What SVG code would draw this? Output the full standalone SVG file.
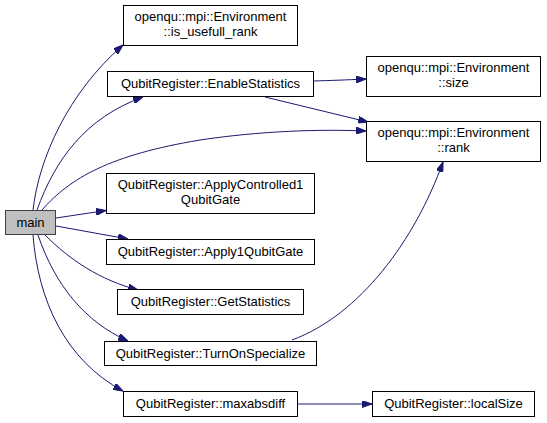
<svg xmlns="http://www.w3.org/2000/svg" width="547" height="423" viewBox="0 0 547 423">
<style>
.n rect{fill:#fff;stroke:#000;stroke-width:1}
#main rect{fill:#bfbfbf;stroke:#404040}
.n text{font-family:"Liberation Sans",Arial,sans-serif;font-size:13px;fill:#000;text-anchor:middle}
.e path{fill:none;stroke:#191970;stroke-width:1;marker-end:url(#ah)}
</style>
<defs>
<marker id="ah" viewBox="0 0 10 7" refX="10" refY="3.5" markerWidth="10" markerHeight="7" markerUnits="userSpaceOnUse" orient="auto">
<path d="M0,0 L10,3.5 L0,7 z" fill="#191970" stroke="#191970"/>
</marker>
</defs>
<rect width="547" height="423" fill="#fff"/>
<g id="connectors" class="e">
<path d="M33,210 C39,158 68,93 123,45"/>
<path d="M37,210 C55,160 85,118 143,97"/>
<path d="M42,210 C70,178 110,155 200,140 C260,131 320,129 366,131"/>
<path d="M313,81 C330,80.5 345,80 366,79"/>
<path d="M265,97 L368,122"/>
<path d="M56,218 L106,210.5"/>
<path d="M56,226 L128,239"/>
<path d="M45,235 C70,260 100,280 138,290"/>
<path d="M38,235 C55,285 85,322 128,341"/>
<path d="M33,235 C38,300 65,360 123,391"/>
<path d="M292,340 C360,315 415,240 443,162"/>
<path d="M298,404 L372,404"/>
</g>
<g id="main" class="n"><rect x="5.5" y="210.5" width="50" height="24"/><text x="30.5" y="227">main</text></g>
<g id="is_usefull_rank" class="n"><rect x="123.5" y="5.5" width="174" height="40"/><text x="210.5" y="20.5">openqu::mpi::Environment</text><text x="210.5" y="35.5">::is_usefull_rank</text></g>
<g id="EnableStatistics" class="n"><rect x="107.5" y="71.5" width="206" height="25"/><text x="210.5" y="88">QubitRegister::EnableStatistics</text></g>
<g id="size" class="n"><rect x="366.5" y="56.5" width="174" height="40"/><text x="453.5" y="71.5">openqu::mpi::Environment</text><text x="453.5" y="86.5">::size</text></g>
<g id="rank" class="n"><rect x="366.5" y="121.5" width="174" height="40"/><text x="453.5" y="136.5">openqu::mpi::Environment</text><text x="453.5" y="151.5">::rank</text></g>
<g id="ApplyControlled1QubitGate" class="n"><rect x="106.5" y="173.5" width="208" height="40"/><text x="210.5" y="188.5">QubitRegister::ApplyControlled1</text><text x="210.5" y="203.5">QubitGate</text></g>
<g id="Apply1QubitGate" class="n"><rect x="106.5" y="239.5" width="208" height="25"/><text x="210.5" y="256">QubitRegister::Apply1QubitGate</text></g>
<g id="GetStatistics" class="n"><rect x="117.5" y="289.5" width="186" height="25"/><text x="210.5" y="306">QubitRegister::GetStatistics</text></g>
<g id="TurnOnSpecialize" class="n"><rect x="104.5" y="341.5" width="212" height="24"/><text x="210.5" y="358">QubitRegister::TurnOnSpecialize</text></g>
<g id="maxabsdiff" class="n"><rect x="123.5" y="391.5" width="174" height="25"/><text x="210.5" y="408">QubitRegister::maxabsdiff</text></g>
<g id="localSize" class="n"><rect x="372.5" y="391.5" width="162" height="25"/><text x="453.5" y="408">QubitRegister::localSize</text></g>
</svg>
